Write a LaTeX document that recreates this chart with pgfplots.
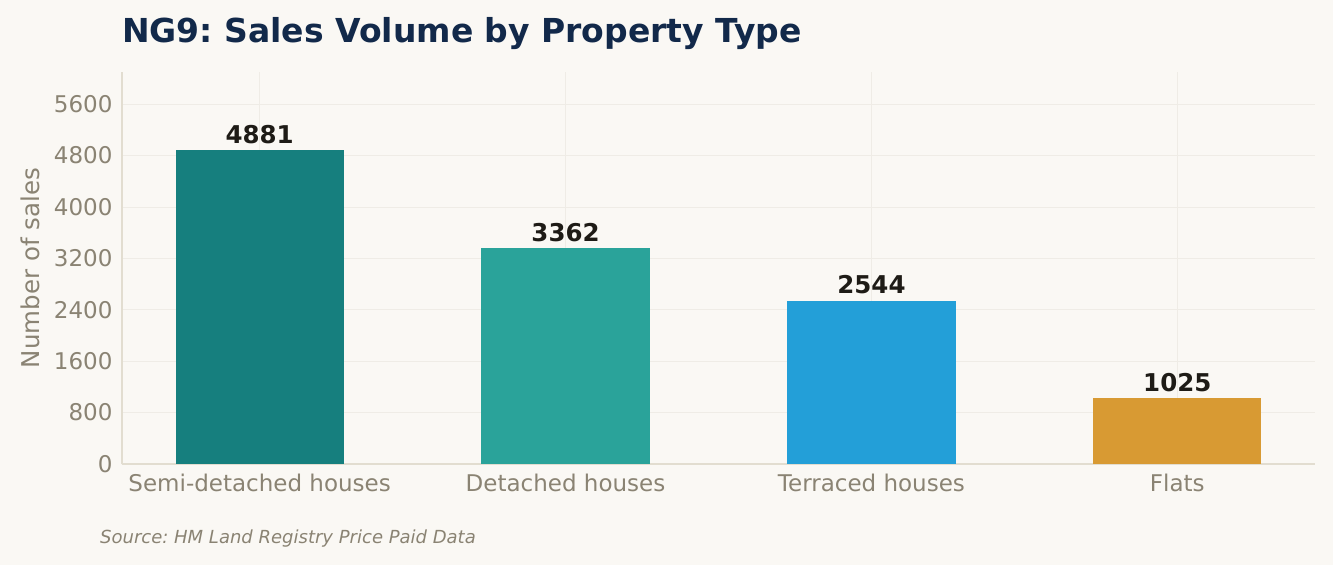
\documentclass[border=0pt]{standalone}
\usepackage{pgfplots}
\pgfplotsset{compat=1.18}
\usepackage{fontspec}
\setmainfont{DejaVu Sans}
\frenchspacing

\definecolor{bgc}{HTML}{FAF8F4}
\definecolor{titlec}{HTML}{12294A}
\definecolor{tickc}{HTML}{8A8373}
\definecolor{axisc}{HTML}{E2DDD0}
\definecolor{gridc}{HTML}{EFECE6}
\definecolor{valc}{HTML}{1E1B16}
\definecolor{c_semi}{HTML}{167F7E}
\definecolor{c_det}{HTML}{2AA39A}
\definecolor{c_ter}{HTML}{239FD8}
\definecolor{c_flat}{HTML}{D89A33}

\begin{document}
\begin{tikzpicture}
\fill[bgc] (-122pt,-101pt) rectangle (1211pt,464pt);
\begin{axis}[
    scale only axis,
    width=1193pt, height=392pt,
    ymin=0, ymax=6100,
    xmin=-0.45, xmax=3.45,
    ytick={0,800,...,5600},
    xtick={0,1,2,3},
    xticklabels={Semi-detached houses, Detached houses, Terraced houses, Flats},
    ybar, bar width=0.55, bar shift=0pt,
    axis x line*=bottom, axis y line*=left,
    axis line style={draw=axisc, line width=1.3pt, -},
    major tick length=0pt,
    grid=major,
    major grid style={draw=gridc, line width=0.9pt},
    tick label style={font=\fontsize{23}{27}\selectfont, text=tickc},
    /pgf/number format/assume math mode=true,
    /pgf/number format/1000 sep={},
    yticklabel style={xshift=-6pt},
    xticklabel style={yshift=-6pt},
    ylabel={Number of sales},
    ylabel style={font=\fontsize{24.5}{28}\selectfont, text=tickc,
        at={(rel axis cs:0,0.5)}, yshift=92pt, anchor=center},
    nodes near coords,
    every node near coord/.style={font=\bfseries\fontsize{24.5}{28}\selectfont,
        text=valc, anchor=south, yshift=3pt},
    /pgf/number format/fixed,
]
\addplot[fill=c_semi, draw=none] coordinates {(0,4881)};
\addplot[fill=c_det, draw=none] coordinates {(1,3362)};
\addplot[fill=c_ter, draw=none] coordinates {(2,2544)};
\addplot[fill=c_flat, draw=none] coordinates {(3,1025)};
\end{axis}
\node[anchor=base west, inner sep=0pt, text=titlec,
      font=\bfseries\fontsize{33}{38}\selectfont] at (0pt,421pt)
      {NG9: Sales Volume by Property Type};
\node[anchor=base west, inner sep=0pt, text=tickc,
      font=\itshape\fontsize{18}{21}\selectfont] at (-22pt,-79pt)
      {Source: HM Land Registry Price Paid Data};
\end{tikzpicture}
\end{document}
